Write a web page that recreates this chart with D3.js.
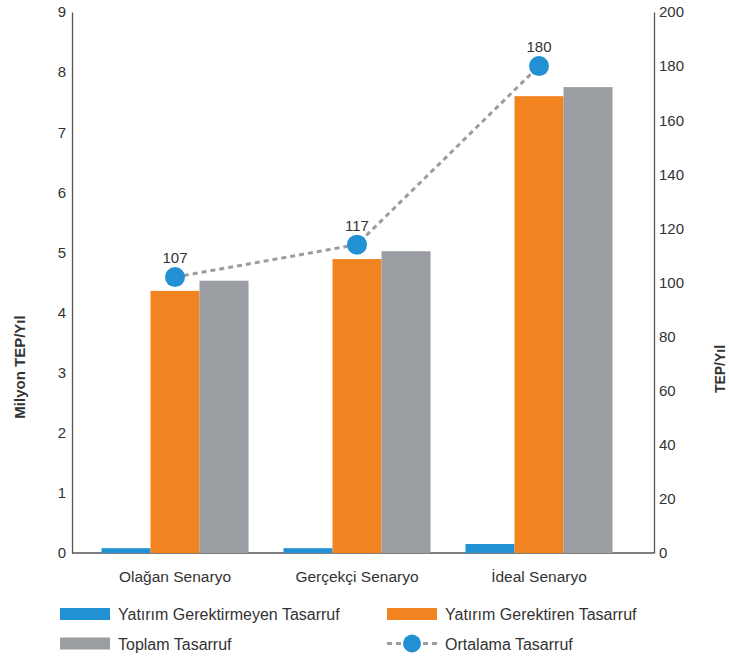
<!DOCTYPE html>
<html>
<head>
<meta charset="utf-8">
<script src="https://cdn.jsdelivr.net/npm/d3@7"></script>
<style>
    body { margin: 0; background: #fff; }
    text { font-family: "Liberation Sans", Arial, sans-serif; fill: #333; }
</style>
</head>
<body>
<div id="chart"></div>
<script>
// chart data
const scenarios = ["Olağan Senaryo", "Gerçekçi Senaryo", "İdeal Senaryo"];
const seriesNames = ["Yatırım Gerektirmeyen Tasarruf", "Yatırım Gerektiren Tasarruf", "Toplam Tasarruf"];
const noInvestment = [0.08, 0.08, 0.15];
const withInvestment = [4.36, 4.89, 7.60];
const totalSaving = [4.53, 5.02, 7.75];
const averageSaving = [102, 114, 180];
const averageLabels = ["107", "117", "180"];
const leftTicks = [0, 1, 2, 3, 4, 5, 6, 7, 8, 9];
const rightTicks = [0, 20, 40, 60, 80, 100, 120, 140, 160, 180, 200];

const colors = ["#2191d3", "#f28321", "#9a9da1"];

let margin = { top: 12, right: 75, bottom: 106, left: 72 };
let width = 729 - margin.left - margin.right;
let height = 659 - margin.top - margin.bottom;

let svg = d3.select("#chart").append("svg")
    .attr("width", 729)
    .attr("height", 659);

let g = svg.append("g")
    .attr("transform", "translate(" + margin.left + "," + margin.top + ")");

// scales
let x0 = d3.scaleBand()
    .domain(scenarios)
    .range([12, 558])
    .paddingInner(0.192)
    .paddingOuter(0.096);

let x1 = d3.scaleBand()
    .domain(seriesNames)
    .range([0, x0.bandwidth()]);

let yLeft = d3.scaleLinear().domain([0, 9]).range([height, 0]);
let yRight = d3.scaleLinear().domain([0, 200]).range([height, 0]);

// axes
let leftAxis = d3.axisLeft(yLeft).tickValues(leftTicks).tickSize(0).tickPadding(6);
let rightAxis = d3.axisRight(yRight).tickValues(rightTicks).tickSize(0).tickPadding(5);

g.append("g").attr("class", "axis").call(leftAxis);
g.append("g").attr("class", "axis").attr("transform", "translate(" + width + ",0)").call(rightAxis);

g.selectAll(".axis path").attr("stroke", "#555").attr("stroke-width", 1.3);
g.selectAll(".axis text").style("font-size", "15px").attr("fill", "#444");

// baseline
g.append("line")
    .attr("x1", 0).attr("x2", width)
    .attr("y1", height).attr("y2", height)
    .attr("stroke", "#555").attr("stroke-width", 1.3);

// bars
let rows = scenarios.map((s, i) => ({
    scenario: s,
    values: [noInvestment[i], withInvestment[i], totalSaving[i]]
}));

let groups = g.selectAll(".group")
    .data(rows)
    .enter()
    .append("g")
    .attr("class", "group")
    .attr("transform", d => "translate(" + x0(d.scenario) + ",0)");

groups.selectAll("rect")
    .data(d => d.values.map((v, j) => ({ key: seriesNames[j], value: v, idx: j })))
    .enter()
    .append("rect")
    .attr("x", d => x1(d.key))
    .attr("y", d => yLeft(d.value))
    .attr("width", x1.bandwidth())
    .attr("height", d => height - yLeft(d.value))
    .attr("fill", d => colors[d.idx]);

// category labels
g.selectAll(".cat-label")
    .data(scenarios)
    .enter()
    .append("text")
    .attr("class", "cat-label")
    .attr("x", d => x0(d) + x0.bandwidth() / 2)
    .attr("y", height + 29)
    .style("text-anchor", "middle")
    .style("font-size", "15.5px")
    .text(d => d);

// average line
let line = d3.line()
    .x((d, i) => x0(scenarios[i]) + x0.bandwidth() / 2)
    .y(d => yRight(d));

g.append("path")
    .attr("d", line(averageSaving))
    .attr("fill", "none")
    .attr("stroke", "#9c9c9c")
    .attr("stroke-width", 3)
    .attr("stroke-dasharray", "5,4");

g.selectAll(".dot")
    .data(averageSaving)
    .enter()
    .append("circle")
    .attr("class", "dot")
    .attr("cx", (d, i) => x0(scenarios[i]) + x0.bandwidth() / 2)
    .attr("cy", d => yRight(d))
    .attr("r", 10)
    .attr("fill", colors[0]);

g.selectAll(".dot-label")
    .data(averageSaving)
    .enter()
    .append("text")
    .attr("class", "dot-label")
    .attr("x", (d, i) => x0(scenarios[i]) + x0.bandwidth() / 2)
    .attr("y", d => yRight(d) - 14)
    .style("text-anchor", "middle")
    .style("font-size", "15px")
    .text((d, i) => averageLabels[i]);

// axis titles
svg.append("text")
    .attr("transform", "rotate(-90)")
    .attr("x", -367)
    .attr("y", 25)
    .style("text-anchor", "middle")
    .style("font-size", "15px")
    .style("font-weight", "bold")
    .text("Milyon TEP/Yıl");

svg.append("text")
    .attr("transform", "rotate(-90)")
    .attr("x", -369)
    .attr("y", 725)
    .style("text-anchor", "middle")
    .style("font-size", "14px")
    .style("font-weight", "bold")
    .text("TEP/Yıl");

// legend
let legendItems = [
    { label: seriesNames[0], type: "bar", color: colors[0], x: 60, y: 614 },
    { label: seriesNames[1], type: "bar", color: colors[1], x: 387, y: 614 },
    { label: seriesNames[2], type: "bar", color: colors[2], x: 60, y: 643.5 },
    { label: "Ortalama Tasarruf", type: "line", color: colors[0], x: 387, y: 643.5 }
];

let legend = svg.selectAll(".legend")
    .data(legendItems)
    .enter()
    .append("g")
    .attr("class", "legend")
    .attr("transform", d => "translate(" + d.x + "," + d.y + ")");

legend.filter(d => d.type === "bar")
    .append("rect")
    .attr("x", 0).attr("y", -6)
    .attr("width", 50).attr("height", 12)
    .attr("fill", d => d.color);

let lineLegend = legend.filter(d => d.type === "line");
lineLegend.append("line")
    .attr("x1", 0).attr("x2", 50)
    .attr("y1", 0).attr("y2", 0)
    .attr("stroke", "#9c9c9c")
    .attr("stroke-width", 3)
    .attr("stroke-dasharray", "5,4");
lineLegend.append("circle")
    .attr("cx", 25).attr("cy", 0).attr("r", 9)
    .attr("fill", d => d.color);

legend.append("text")
    .attr("x", 58)
    .attr("y", 6)
    .style("font-size", "16px")
    .text(d => d.label);
</script>
</body>
</html>
